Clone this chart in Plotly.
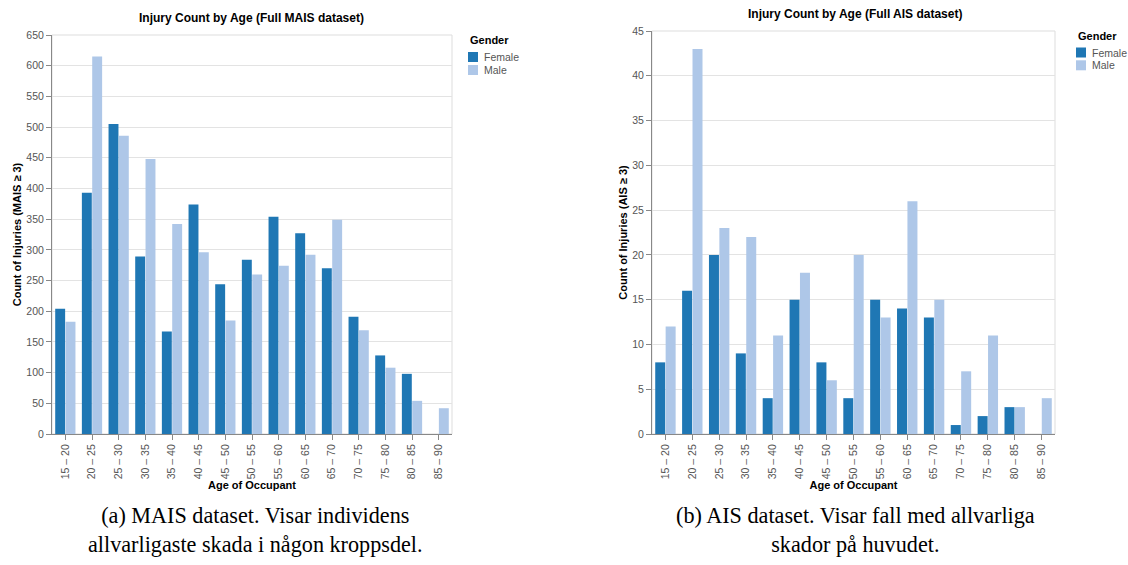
import plotly.graph_objects as go

# Age bands on the x axis
age_bands = ["15 – 20", "20 – 25", "25 – 30", "30 – 35", "35 – 40", "40 – 45", "45 – 50",
             "50 – 55", "55 – 60", "60 – 65", "65 – 70", "70 – 75", "75 – 80", "80 – 85", "85 – 90"]

# Full MAIS dataset (MAIS >= 3)
mais_female = [204, 393, 505, 289, 167, 374, 244, 284, 354, 327, 270, 191, 128, 98, None]
mais_male = [183, 615, 486, 448, 342, 296, 185, 260, 274, 292, 349, 169, 108, 54, 42]

# Full AIS dataset, head injuries (AIS >= 3)
ais_female = [8, 16, 20, 9, 4, 15, 8, 4, 15, 14, 13, 1, 2, 3, None]
ais_male = [12, 43, 23, 22, 11, 18, 6, 20, 13, 26, 15, 7, 11, 3, 4]

genders = ["Female", "Male"]
gender_colors = {"Female": "#1f77b4", "Male": "#aec7e8"}

SANS = "Liberation Sans, Arial, sans-serif"
SERIF = "Liberation Serif, Times New Roman, serif"
LABEL_GRAY = "#555555"

W, H = 1128, 565


def px_x(v):
    return v / W


def px_y(v):
    return 1 - v / H


fig = go.Figure()

panels = [
    dict(xa="x", ya="y", female=mais_female, male=mais_male),
    dict(xa="x2", ya="y2", female=ais_female, male=ais_male),
]
for p in panels:
    for g, vals in (("Female", p["female"]), ("Male", p["male"])):
        fig.add_trace(go.Bar(x=age_bands, y=vals, name=g, marker_color=gender_colors[g],
                             marker_line_width=0, xaxis=p["xa"], yaxis=p["ya"],
                             showlegend=False))

xcommon = dict(
    type="category", categoryorder="array", categoryarray=age_bands,
    tickangle=-90, ticks="outside", ticklen=5, tickcolor="#888", automargin=False,
    showline=True, linecolor="#888", linewidth=1, showgrid=False, zeroline=False,
    tickfont=dict(family=SANS, size=10.5, color=LABEL_GRAY),
    title=dict(text="<b>Age of Occupant</b>", font=dict(family=SANS, size=11, color="#000"), standoff=3),
)
ycommon = dict(
    ticks="outside", ticklen=5, tickcolor="#888", automargin=False,
    showline=True, linecolor="#888", linewidth=1,
    showgrid=True, gridcolor="#e3e3e3", gridwidth=1, zeroline=False,
    tickfont=dict(family=SANS, size=10.5, color=LABEL_GRAY),
)

left = (52, 452, 35, 434)
right = (652, 1055, 31, 434)

fig.update_layout(
    template="none",
    width=W, height=H,
    margin=dict(l=0, r=0, t=0, b=0, autoexpand=False),
    paper_bgcolor="white", plot_bgcolor="white",
    barmode="group", bargap=0.225, bargroupgap=0.04,
    showlegend=False,
    xaxis=dict(domain=[px_x(left[0]), px_x(left[1])], anchor="y", **xcommon),
    yaxis=dict(domain=[px_y(left[3]), px_y(left[2])], anchor="x", range=[0, 650], dtick=50,
               title=dict(text="<b>Count of Injuries (MAIS ≥ 3)</b>",
                          font=dict(family=SANS, size=11, color="#000"), standoff=2),
               **ycommon),
    xaxis2=dict(domain=[px_x(right[0]), px_x(right[1])], anchor="y2", **xcommon),
    yaxis2=dict(domain=[px_y(right[3]), px_y(right[2])], anchor="x2", range=[0, 45], dtick=5,
                title=dict(text="<b>Count of Injuries (AIS ≥ 3)</b>",
                           font=dict(family=SANS, size=11, color="#000"), standoff=2),
                **ycommon),
)

# Light frame around each plot area
for xr, yr in (("x domain", "y domain"), ("x2 domain", "y2 domain")):
    fig.add_shape(type="rect", xref=xr, yref=yr, x0=0, x1=1, y0=0, y1=1,
                  line=dict(color="#dddddd", width=1), layer="below")

# Gender legends (title, colour squares, labels)
for lx, ty, ys in ((468, 40, (57, 70)), (1076, 36, (52.5, 65.3))):
    fig.add_annotation(text="<b>Gender</b>", xref="paper", yref="paper",
                       x=px_x(lx), y=px_y(ty), xanchor="left", yanchor="middle", showarrow=False,
                       font=dict(family=SANS, size=11, color="#000"))
    for g, cy in zip(genders, ys):
        fig.add_shape(type="rect", xref="paper", yref="paper",
                      x0=px_x(lx), x1=px_x(lx + 10), y0=px_y(cy + 5), y1=px_y(cy - 5),
                      line=dict(width=0), fillcolor=gender_colors[g])
        fig.add_annotation(text=g, xref="paper", yref="paper",
                           x=px_x(lx + 14), y=px_y(cy), xanchor="left", yanchor="middle",
                           showarrow=False, font=dict(family=SANS, size=10.5, color=LABEL_GRAY))

# Chart titles
fig.add_annotation(text="<b>Injury Count by Age (Full MAIS dataset)</b>", xref="paper", yref="paper",
                   x=px_x(251), y=px_y(18), xanchor="center", yanchor="middle", showarrow=False,
                   font=dict(family=SANS, size=12, color="#000"))
fig.add_annotation(text="<b>Injury Count by Age (Full AIS dataset)</b>", xref="paper", yref="paper",
                   x=px_x(855), y=px_y(14), xanchor="center", yanchor="middle", showarrow=False,
                   font=dict(family=SANS, size=12, color="#000"))

# Figure captions
fig.add_annotation(text="(a) MAIS dataset. Visar individens<br>allvarligaste skada i någon kroppsdel.",
                   xref="paper", yref="paper", x=px_x(255), y=px_y(530), xanchor="center",
                   yanchor="middle", showarrow=False, align="center",
                   font=dict(family=SERIF, size=22.2, color="#000"))
fig.add_annotation(text="(b) AIS dataset. Visar fall med allvarliga<br>skador på huvudet.",
                   xref="paper", yref="paper", x=px_x(855), y=px_y(530), xanchor="center",
                   yanchor="middle", showarrow=False, align="center",
                   font=dict(family=SERIF, size=22.2, color="#000"))

fig.write_html("out.html")
